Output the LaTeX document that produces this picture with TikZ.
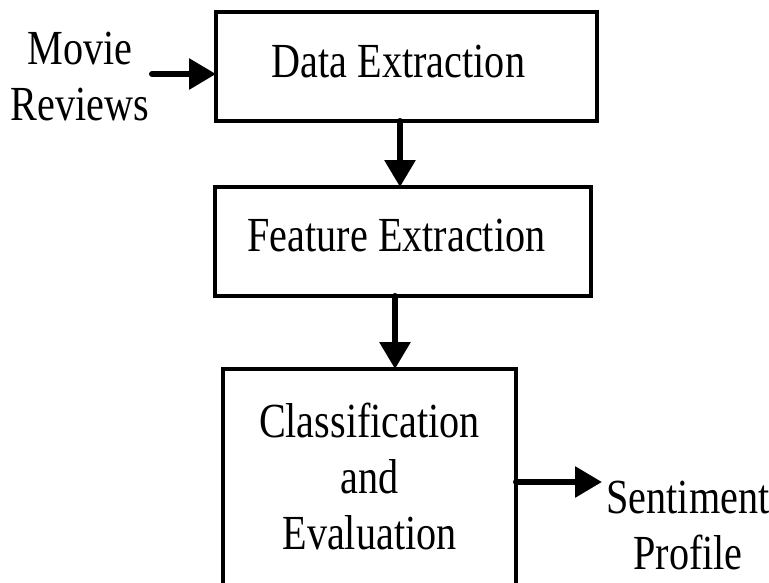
\documentclass[tikz,border=0pt]{standalone}
\usepackage{fontspec}
\setmainfont{Liberation Serif}[FakeStretch=0.82]
\usetikzlibrary{arrows.meta}
\begin{document}
\begin{tikzpicture}[x=1pt,y=-1pt,
  box/.style={draw, rectangle, line width=4pt, outer sep=0pt, inner sep=0pt},
  txt/.style={font=\fontsize{49}{56}\selectfont, inner sep=0pt, align=center},
  arr/.style={line width=6pt, line cap=round, -{Triangle[length=27pt,width=30pt]}},
]
\useasboundingbox (0,0) rectangle (769,582);

% processing stages
\node[box, minimum width=381pt, minimum height=109pt,
      label={[txt,xshift=-8pt,yshift=5pt]center:Data Extraction}] (data) at (406.5,66.5) {};
\node[box, minimum width=376pt, minimum height=109pt,
      label={[txt,xshift=-6.5pt,yshift=6pt]center:Feature Extraction}] (feat) at (403,241.5) {};
\node[box, minimum width=293pt, minimum height=250pt, anchor=north,
      label={[txt,yshift=18pt]center:Classification\\and\\Evaluation}] (cls) at (369.5,369) {};

% input and output
\node[txt] (input) at (80,77) {Movie\\Reviews};
\node[txt] (output) at (688,526) {Sentiment\\Profile};

% connectors
\coordinate (inStart) at (152,74);
\coordinate (outEnd) at (602,482);
\coordinate (colA) at (400,0);
\coordinate (colB) at (395,0);
\draw[arr] (inStart) -- (inStart -| data.west);
\draw[arr] (colA |- data.south) -- (colA |- feat.north);
\draw[arr] (colB |- feat.south) -- (colB |- cls.north);
\draw[arr] (cls.east |- outEnd) -- (outEnd);
\end{tikzpicture}
\end{document}
